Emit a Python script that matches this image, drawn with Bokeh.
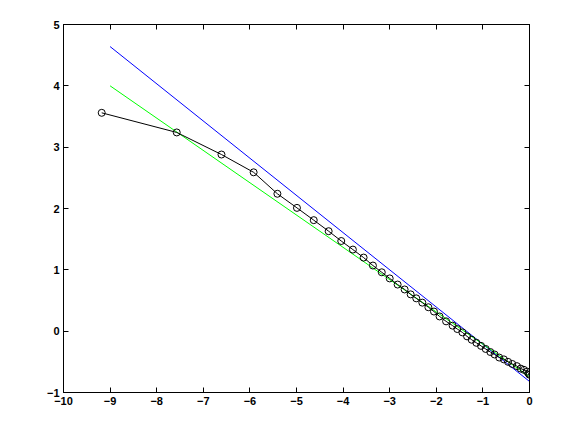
from bokeh.plotting import figure
from bokeh.models import LinearAxis, FixedTicker, Range1d
from bokeh.embed import file_html
from bokeh.resources import INLINE

# data series (black circles, joined by a line)
x_data = [-9.18, -7.57, -6.61, -5.92, -5.41, -4.99, -4.63, -4.31, -4.04, -3.79,
          -3.56, -3.36, -3.17, -3.00, -2.83, -2.68, -2.55, -2.43, -2.30, -2.17,
          -2.05, -1.93, -1.79, -1.65, -1.55, -1.44, -1.34, -1.24, -1.14, -1.04,
          -0.94, -0.84, -0.75, -0.65, -0.55, -0.46, -0.37, -0.27, -0.19, -0.12,
          -0.05, -0.02, 0.0]
y_data = [3.56, 3.24, 2.88, 2.59, 2.24, 2.01, 1.81, 1.63, 1.47, 1.33,
          1.20, 1.07, 0.96, 0.86, 0.76, 0.68, 0.60, 0.535, 0.465, 0.39,
          0.32, 0.24, 0.16, 0.09, 0.035, -0.02, -0.085, -0.14, -0.19, -0.24,
          -0.29, -0.34, -0.38, -0.43, -0.46, -0.50, -0.535, -0.57, -0.61, -0.63,
          -0.66, -0.69, -0.71]

# straight reference lines
line_x = [-9.0, 0.0]
blue_y = [4.64, -0.82]
green_y = [4.0, -0.74]

x_ticks = [-10, -9, -8, -7, -6, -5, -4, -3, -2, -1, 0]
y_ticks = [-1, 0, 1, 2, 3, 4, 5]

p = figure(width=568, height=423, output_backend="svg", toolbar_location=None,
           x_range=Range1d(-10, 0), y_range=Range1d(-1, 5),
           x_axis_location=None, y_axis_location=None,
           min_border_left=63, min_border_top=24, min_border_right=39, min_border_bottom=31)

p.grid.visible = False
p.outline_line_color = "black"
p.outline_line_width = 1
p.background_fill_color = "white"
p.border_fill_color = "white"

def fmt(v):
    return str(v).replace("-", "\u2212")

def make_axis(ticks, labels=True):
    ax = LinearAxis(ticker=FixedTicker(ticks=ticks))
    ax.major_tick_in = 5
    ax.major_tick_out = 0
    ax.minor_tick_line_color = None
    ax.axis_line_color = "black"
    ax.major_tick_line_color = "black"
    if labels:
        ax.major_label_overrides = {t: fmt(t) for t in ticks}
        ax.major_label_text_font = "Liberation Sans"
        ax.major_label_text_font_size = "11px"
        ax.major_label_text_font_style = "bold"
        ax.major_label_text_color = "black"
        ax.major_label_standoff = 4
    else:
        ax.major_label_text_color = None
        ax.major_label_text_font_size = "1px"
        ax.major_label_standoff = 0
    return ax

p.add_layout(make_axis(x_ticks), "below")
p.add_layout(make_axis(y_ticks), "left")
p.add_layout(make_axis(x_ticks, labels=False), "above")
p.add_layout(make_axis(y_ticks, labels=False), "right")

p.line(line_x, blue_y, line_color="#0000ff", line_width=1)
p.line(line_x, green_y, line_color="#00ff00", line_width=1)
p.line(x_data, y_data, line_color="black", line_width=1)
p.scatter(x_data, y_data, marker="circle", size=7, fill_color=None,
          line_color="black", line_width=1)

open("out.html", "w").write(file_html(p, INLINE))
